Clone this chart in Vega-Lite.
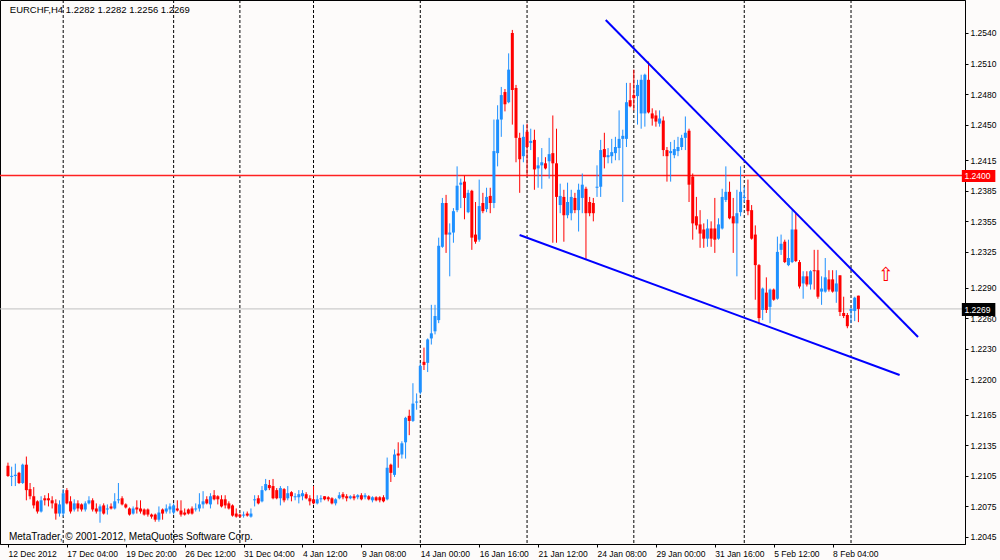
{
"$schema": "https://vega.github.io/schema/vega-lite/v6.json",
"width": 965,
"height": 544,
"autosize": {"type": "none"},
"padding": {"left": 0, "top": 0, "right": 35, "bottom": 16},
"background": "#fdfbfa",
"config": {"view": {"stroke": "#000000", "strokeWidth": 1}, "font": "Liberation Sans", "text": {"font": "Liberation Sans"}, "rule": {"color": "#ff0000"},
"axis": {"labelOverlap": false, "labelFlush": false, "grid": false, "labelFont": "Liberation Sans", "labelFontSize": 8.5, "labelColor": "#000000", "tickColor": "#000000", "domainColor": "#000000", "tickSize": 3, "labelPadding": 2, "title": null, "tickCount": 40}},
"datasets": {
"sep": [{"i":15},{"i":45},{"i":63},{"i":83},{"i":112},{"i":141},{"i":170},{"i":200},{"i":229}],
"bidline": [{"p":1.2269}],
"levelline": [{"p":1.24}],
"trend": [{"line":"upper","i":162.37,"p":1.25528},{"line":"upper","i":247.2,"p":1.22414},{"line":"lower","i":138.98,"p":1.23416},{"line":"lower","i":242.2,"p":1.22041}],
"plab": [{"t":"1.2400","p":1.2400,"p1":1.23937,"p2":1.24055},{"t":"1.2269","p":1.22684,"p1":1.2262,"p2":1.22748}],
"notes": [{"t":"EURCHF,H4  1.2282 1.2282 1.2256 1.2269","i":0.5,"p":1.25626,"kind":"title"},{"t":"MetaTrader, © 2001-2012, MetaQuotes Software Corp.","i":0.27,"p":1.20453,"kind":"copy"}],
"arrow": [{"t":"⇧","i":238.4,"p":1.2302}],
"bars": [
{"i":0,"o":1.2115,"h":1.2118,"l":1.2104,"c":1.2105},
{"i":1,"o":1.2104,"h":1.2114,"l":1.2095,"c":1.2105},
{"i":2,"o":1.2105,"h":1.2117,"l":1.2095,"c":1.2106},
{"i":3,"o":1.2108,"h":1.2109,"l":1.2097,"c":1.2098},
{"i":4,"o":1.2098,"h":1.2117,"l":1.2097,"c":1.2116},
{"i":5,"o":1.2116,"h":1.2124,"l":1.2081,"c":1.2091},
{"i":6,"o":1.2092,"h":1.2098,"l":1.2082,"c":1.2085},
{"i":7,"o":1.2085,"h":1.2094,"l":1.2073,"c":1.2076},
{"i":8,"o":1.2080,"h":1.2081,"l":1.2068,"c":1.2070},
{"i":9,"o":1.2070,"h":1.2085,"l":1.2069,"c":1.2081},
{"i":10,"o":1.2083,"h":1.2086,"l":1.2076,"c":1.2081},
{"i":11,"o":1.2083,"h":1.2088,"l":1.2075,"c":1.2081},
{"i":12,"o":1.2081,"h":1.2085,"l":1.2073,"c":1.2078},
{"i":13,"o":1.2078,"h":1.2082,"l":1.2062,"c":1.2068},
{"i":14,"o":1.2068,"h":1.2081,"l":1.2065,"c":1.2077},
{"i":15,"o":1.2068,"h":1.2092,"l":1.2065,"c":1.2088},
{"i":16,"o":1.2091,"h":1.2093,"l":1.2077,"c":1.2078},
{"i":17,"o":1.2080,"h":1.2085,"l":1.2068,"c":1.2070},
{"i":18,"o":1.2072,"h":1.2082,"l":1.2070,"c":1.2078},
{"i":19,"o":1.2078,"h":1.2081,"l":1.2070,"c":1.2073},
{"i":20,"o":1.2077,"h":1.2078,"l":1.2070,"c":1.2072},
{"i":21,"o":1.2072,"h":1.2080,"l":1.2070,"c":1.2078},
{"i":22,"o":1.2078,"h":1.2085,"l":1.2077,"c":1.2081},
{"i":23,"o":1.2081,"h":1.2083,"l":1.2070,"c":1.2072},
{"i":24,"o":1.2073,"h":1.2078,"l":1.2068,"c":1.2070},
{"i":25,"o":1.2070,"h":1.2077,"l":1.2059,"c":1.2075},
{"i":26,"o":1.2076,"h":1.2078,"l":1.2067,"c":1.2068},
{"i":27,"o":1.2072,"h":1.2077,"l":1.2067,"c":1.2073},
{"i":28,"o":1.2075,"h":1.2078,"l":1.2072,"c":1.2073},
{"i":29,"o":1.2073,"h":1.2088,"l":1.2072,"c":1.2080},
{"i":30,"o":1.2081,"h":1.2098,"l":1.2078,"c":1.2082},
{"i":31,"o":1.2083,"h":1.2085,"l":1.2076,"c":1.2077},
{"i":32,"o":1.2077,"h":1.2078,"l":1.2073,"c":1.2074},
{"i":33,"o":1.2073,"h":1.2074,"l":1.2066,"c":1.2067},
{"i":34,"o":1.2068,"h":1.2075,"l":1.2067,"c":1.2073},
{"i":35,"o":1.2074,"h":1.2081,"l":1.2068,"c":1.2072},
{"i":36,"o":1.2073,"h":1.2081,"l":1.2068,"c":1.2070},
{"i":37,"o":1.2072,"h":1.2073,"l":1.2066,"c":1.2067},
{"i":38,"o":1.2072,"h":1.2073,"l":1.2065,"c":1.2067},
{"i":39,"o":1.2067,"h":1.2068,"l":1.2063,"c":1.2065},
{"i":40,"o":1.2067,"h":1.2068,"l":1.2060,"c":1.2062},
{"i":41,"o":1.2062,"h":1.2075,"l":1.2060,"c":1.2069},
{"i":42,"o":1.2072,"h":1.2073,"l":1.2062,"c":1.2068},
{"i":43,"o":1.2070,"h":1.2077,"l":1.2068,"c":1.2073},
{"i":44,"o":1.2072,"h":1.2078,"l":1.2068,"c":1.2075},
{"i":45,"o":1.2069,"h":1.2078,"l":1.2067,"c":1.2076},
{"i":46,"o":1.2073,"h":1.2081,"l":1.2070,"c":1.2071},
{"i":47,"o":1.2071,"h":1.2081,"l":1.2065,"c":1.2067},
{"i":48,"o":1.2069,"h":1.2073,"l":1.2066,"c":1.2067},
{"i":49,"o":1.2072,"h":1.2073,"l":1.2067,"c":1.2068},
{"i":50,"o":1.2073,"h":1.2075,"l":1.2067,"c":1.2068},
{"i":51,"o":1.2072,"h":1.2078,"l":1.2070,"c":1.2073},
{"i":52,"o":1.2073,"h":1.2088,"l":1.2070,"c":1.2077},
{"i":53,"o":1.2077,"h":1.2090,"l":1.2073,"c":1.2080},
{"i":54,"o":1.2082,"h":1.2085,"l":1.2077,"c":1.2078},
{"i":55,"o":1.2077,"h":1.2088,"l":1.2073,"c":1.2085},
{"i":56,"o":1.2086,"h":1.2091,"l":1.2081,"c":1.2082},
{"i":57,"o":1.2085,"h":1.2086,"l":1.2077,"c":1.2082},
{"i":58,"o":1.2082,"h":1.2086,"l":1.2074,"c":1.2075},
{"i":59,"o":1.2082,"h":1.2086,"l":1.2073,"c":1.2076},
{"i":60,"o":1.2078,"h":1.2080,"l":1.2072,"c":1.2073},
{"i":61,"o":1.2076,"h":1.2077,"l":1.2065,"c":1.2066},
{"i":62,"o":1.2068,"h":1.2073,"l":1.2064,"c":1.2065},
{"i":63,"o":1.2067,"h":1.2068,"l":1.2064,"c":1.2065},
{"i":64,"o":1.2066,"h":1.2070,"l":1.2064,"c":1.2067},
{"i":65,"o":1.2068,"h":1.2070,"l":1.2065,"c":1.2066},
{"i":66,"o":1.2065,"h":1.2073,"l":1.2064,"c":1.2068},
{"i":67,"o":1.2081,"h":1.2086,"l":1.2075,"c":1.2082},
{"i":68,"o":1.2083,"h":1.2086,"l":1.2077,"c":1.2078},
{"i":69,"o":1.2080,"h":1.2095,"l":1.2079,"c":1.2091},
{"i":70,"o":1.2091,"h":1.2102,"l":1.2090,"c":1.2097},
{"i":71,"o":1.2096,"h":1.2101,"l":1.2091,"c":1.2093},
{"i":72,"o":1.2095,"h":1.2102,"l":1.2082,"c":1.2083},
{"i":73,"o":1.2091,"h":1.2093,"l":1.2082,"c":1.2083},
{"i":74,"o":1.2083,"h":1.2095,"l":1.2076,"c":1.2093},
{"i":75,"o":1.2092,"h":1.2093,"l":1.2079,"c":1.2081},
{"i":76,"o":1.2083,"h":1.2095,"l":1.2081,"c":1.2088},
{"i":77,"o":1.2089,"h":1.2090,"l":1.2080,"c":1.2085},
{"i":78,"o":1.2084,"h":1.2088,"l":1.2081,"c":1.2085},
{"i":79,"o":1.2084,"h":1.2091,"l":1.2078,"c":1.2087},
{"i":80,"o":1.2085,"h":1.2091,"l":1.2081,"c":1.2088},
{"i":81,"o":1.2087,"h":1.2089,"l":1.2082,"c":1.2083},
{"i":82,"o":1.2083,"h":1.2086,"l":1.2076,"c":1.2080},
{"i":83,"o":1.2082,"h":1.2095,"l":1.2077,"c":1.2078},
{"i":84,"o":1.2078,"h":1.2086,"l":1.2077,"c":1.2082},
{"i":85,"o":1.2082,"h":1.2086,"l":1.2079,"c":1.2083},
{"i":86,"o":1.2085,"h":1.2085,"l":1.2081,"c":1.2082},
{"i":87,"o":1.2084,"h":1.2085,"l":1.2080,"c":1.2082},
{"i":88,"o":1.2083,"h":1.2084,"l":1.2077,"c":1.2078},
{"i":89,"o":1.2078,"h":1.2083,"l":1.2076,"c":1.2082},
{"i":90,"o":1.2083,"h":1.2089,"l":1.2082,"c":1.2086},
{"i":91,"o":1.2087,"h":1.2089,"l":1.2082,"c":1.2084},
{"i":92,"o":1.2085,"h":1.2087,"l":1.2080,"c":1.2083},
{"i":93,"o":1.2083,"h":1.2086,"l":1.2082,"c":1.2085},
{"i":94,"o":1.2085,"h":1.2087,"l":1.2081,"c":1.2083},
{"i":95,"o":1.2084,"h":1.2087,"l":1.2082,"c":1.2086},
{"i":96,"o":1.2086,"h":1.2088,"l":1.2081,"c":1.2082},
{"i":97,"o":1.2084,"h":1.2088,"l":1.2082,"c":1.2086},
{"i":98,"o":1.2085,"h":1.2086,"l":1.2081,"c":1.2082},
{"i":99,"o":1.2081,"h":1.2085,"l":1.2079,"c":1.2084},
{"i":100,"o":1.2084,"h":1.2085,"l":1.2080,"c":1.2081},
{"i":101,"o":1.2084,"h":1.2085,"l":1.2079,"c":1.2081},
{"i":102,"o":1.2084,"h":1.2086,"l":1.2079,"c":1.2080},
{"i":103,"o":1.2082,"h":1.2123,"l":1.2081,"c":1.2113},
{"i":104,"o":1.2116,"h":1.2117,"l":1.2099,"c":1.2108},
{"i":105,"o":1.2106,"h":1.2131,"l":1.2104,"c":1.2126},
{"i":106,"o":1.2127,"h":1.2138,"l":1.2113,"c":1.2125},
{"i":107,"o":1.2126,"h":1.2139,"l":1.2122,"c":1.2137},
{"i":108,"o":1.2138,"h":1.2163,"l":1.2122,"c":1.2162},
{"i":109,"o":1.2164,"h":1.2170,"l":1.2145,"c":1.2159},
{"i":110,"o":1.2159,"h":1.2196,"l":1.2158,"c":1.2176},
{"i":111,"o":1.2177,"h":1.2186,"l":1.2170,"c":1.2178},
{"i":112,"o":1.2187,"h":1.2216,"l":1.2185,"c":1.2213},
{"i":113,"o":1.2217,"h":1.2231,"l":1.2209,"c":1.2214},
{"i":114,"o":1.2216,"h":1.2240,"l":1.2207,"c":1.2239},
{"i":115,"o":1.2240,"h":1.2273,"l":1.2234,"c":1.2245},
{"i":116,"o":1.2247,"h":1.2273,"l":1.2244,"c":1.2262},
{"i":117,"o":1.2258,"h":1.2339,"l":1.2255,"c":1.2331},
{"i":118,"o":1.2330,"h":1.2378,"l":1.2329,"c":1.2373},
{"i":119,"o":1.2373,"h":1.2381,"l":1.2324,"c":1.2342},
{"i":120,"o":1.2342,"h":1.2353,"l":1.2301,"c":1.2344},
{"i":121,"o":1.2344,"h":1.2368,"l":1.2334,"c":1.2365},
{"i":122,"o":1.2366,"h":1.2409,"l":1.2364,"c":1.2390},
{"i":123,"o":1.2391,"h":1.2397,"l":1.2368,"c":1.2393},
{"i":124,"o":1.2394,"h":1.2400,"l":1.2357,"c":1.2378},
{"i":125,"o":1.2364,"h":1.2386,"l":1.2363,"c":1.2383},
{"i":126,"o":1.2385,"h":1.2386,"l":1.2327,"c":1.2339},
{"i":127,"o":1.2342,"h":1.2374,"l":1.2333,"c":1.2335},
{"i":128,"o":1.2337,"h":1.2396,"l":1.2335,"c":1.2370},
{"i":129,"o":1.2373,"h":1.2383,"l":1.2363,"c":1.2365},
{"i":130,"o":1.2367,"h":1.2388,"l":1.2364,"c":1.2379},
{"i":131,"o":1.2380,"h":1.2388,"l":1.2363,"c":1.2373},
{"i":132,"o":1.2373,"h":1.2455,"l":1.2368,"c":1.2424},
{"i":133,"o":1.2422,"h":1.2469,"l":1.2409,"c":1.2455},
{"i":134,"o":1.2455,"h":1.2487,"l":1.2438,"c":1.2479},
{"i":135,"o":1.2482,"h":1.2485,"l":1.2463,"c":1.2470},
{"i":136,"o":1.2472,"h":1.2520,"l":1.2471,"c":1.2504},
{"i":137,"o":1.2540,"h":1.2543,"l":1.2450,"c":1.2484},
{"i":138,"o":1.2486,"h":1.2489,"l":1.2413,"c":1.2437},
{"i":139,"o":1.2437,"h":1.2442,"l":1.2383,"c":1.2416},
{"i":140,"o":1.2419,"h":1.2450,"l":1.2413,"c":1.2438},
{"i":141,"o":1.2443,"h":1.2451,"l":1.2399,"c":1.2428},
{"i":142,"o":1.2432,"h":1.2446,"l":1.2425,"c":1.2434},
{"i":143,"o":1.2435,"h":1.2445,"l":1.2386,"c":1.2406},
{"i":144,"o":1.2407,"h":1.2418,"l":1.2388,"c":1.2410},
{"i":145,"o":1.2410,"h":1.2427,"l":1.2387,"c":1.2413},
{"i":146,"o":1.2412,"h":1.2418,"l":1.2406,"c":1.2407},
{"i":147,"o":1.2414,"h":1.2437,"l":1.2397,"c":1.2421},
{"i":148,"o":1.2422,"h":1.2459,"l":1.2334,"c":1.2412},
{"i":149,"o":1.2412,"h":1.2446,"l":1.2334,"c":1.2379},
{"i":150,"o":1.2371,"h":1.2392,"l":1.2363,"c":1.2380},
{"i":151,"o":1.2379,"h":1.2386,"l":1.2335,"c":1.2361},
{"i":152,"o":1.2361,"h":1.2393,"l":1.2358,"c":1.2374},
{"i":153,"o":1.2363,"h":1.2386,"l":1.2356,"c":1.2379},
{"i":154,"o":1.2378,"h":1.2383,"l":1.2363,"c":1.2366},
{"i":155,"o":1.2366,"h":1.2392,"l":1.2345,"c":1.2386},
{"i":156,"o":1.2378,"h":1.2402,"l":1.2363,"c":1.2391},
{"i":157,"o":1.2387,"h":1.2389,"l":1.2317,"c":1.2363},
{"i":158,"o":1.2374,"h":1.2379,"l":1.2360,"c":1.2363},
{"i":159,"o":1.2373,"h":1.2378,"l":1.2355,"c":1.2363},
{"i":160,"o":1.2388,"h":1.2410,"l":1.2379,"c":1.2389},
{"i":161,"o":1.2389,"h":1.2435,"l":1.2379,"c":1.2425},
{"i":162,"o":1.2426,"h":1.2442,"l":1.2407,"c":1.2418},
{"i":163,"o":1.2418,"h":1.2427,"l":1.2412,"c":1.2420},
{"i":164,"o":1.2419,"h":1.2436,"l":1.2412,"c":1.2423},
{"i":165,"o":1.2422,"h":1.2438,"l":1.2415,"c":1.2428},
{"i":166,"o":1.2427,"h":1.2464,"l":1.2415,"c":1.2436},
{"i":167,"o":1.2436,"h":1.2445,"l":1.2374,"c":1.2439},
{"i":168,"o":1.2436,"h":1.2491,"l":1.2428,"c":1.2472},
{"i":169,"o":1.2474,"h":1.2491,"l":1.2467,"c":1.2468},
{"i":170,"o":1.2479,"h":1.2504,"l":1.2464,"c":1.2476},
{"i":171,"o":1.2478,"h":1.2494,"l":1.2450,"c":1.2489},
{"i":172,"o":1.2461,"h":1.2499,"l":1.2446,"c":1.2494},
{"i":173,"o":1.2461,"h":1.2500,"l":1.2448,"c":1.2499},
{"i":174,"o":1.2494,"h":1.2512,"l":1.2461,"c":1.2462},
{"i":175,"o":1.2461,"h":1.2466,"l":1.2449,"c":1.2456},
{"i":176,"o":1.2459,"h":1.2464,"l":1.2448,"c":1.2453},
{"i":177,"o":1.2451,"h":1.2464,"l":1.2448,"c":1.2456},
{"i":178,"o":1.2454,"h":1.2458,"l":1.2419,"c":1.2425},
{"i":179,"o":1.2425,"h":1.2428,"l":1.2394,"c":1.2419},
{"i":180,"o":1.2422,"h":1.2433,"l":1.2394,"c":1.2424},
{"i":181,"o":1.2420,"h":1.2435,"l":1.2417,"c":1.2426},
{"i":182,"o":1.2424,"h":1.2438,"l":1.2419,"c":1.2428},
{"i":183,"o":1.2428,"h":1.2440,"l":1.2425,"c":1.2437},
{"i":184,"o":1.2437,"h":1.2458,"l":1.2425,"c":1.2442},
{"i":185,"o":1.2444,"h":1.2446,"l":1.2374,"c":1.2391},
{"i":186,"o":1.2399,"h":1.2402,"l":1.2337,"c":1.2353},
{"i":187,"o":1.2360,"h":1.2379,"l":1.2347,"c":1.2351},
{"i":188,"o":1.2352,"h":1.2366,"l":1.2329,"c":1.2343},
{"i":189,"o":1.2347,"h":1.2353,"l":1.2329,"c":1.2338},
{"i":190,"o":1.2338,"h":1.2357,"l":1.2330,"c":1.2348},
{"i":191,"o":1.2348,"h":1.2355,"l":1.2330,"c":1.2338},
{"i":192,"o":1.2348,"h":1.2378,"l":1.2324,"c":1.2337},
{"i":193,"o":1.2338,"h":1.2358,"l":1.2337,"c":1.2352},
{"i":194,"o":1.2348,"h":1.2387,"l":1.2347,"c":1.2379},
{"i":195,"o":1.2376,"h":1.2409,"l":1.2374,"c":1.2384},
{"i":196,"o":1.2384,"h":1.2394,"l":1.2357,"c":1.2358},
{"i":197,"o":1.2360,"h":1.2378,"l":1.2324,"c":1.2353},
{"i":198,"o":1.2353,"h":1.2386,"l":1.2301,"c":1.2363},
{"i":199,"o":1.2364,"h":1.2409,"l":1.2360,"c":1.2384},
{"i":200,"o":1.2378,"h":1.2389,"l":1.2374,"c":1.2379},
{"i":201,"o":1.2376,"h":1.2396,"l":1.2361,"c":1.2365},
{"i":202,"o":1.2366,"h":1.2371,"l":1.2337,"c":1.2338},
{"i":203,"o":1.2342,"h":1.2351,"l":1.2278,"c":1.2312},
{"i":204,"o":1.2312,"h":1.2313,"l":1.2254,"c":1.2260},
{"i":205,"o":1.2268,"h":1.2290,"l":1.2258,"c":1.2289},
{"i":206,"o":1.2285,"h":1.2300,"l":1.2265,"c":1.2268},
{"i":207,"o":1.2271,"h":1.2289,"l":1.2255,"c":1.2288},
{"i":208,"o":1.2288,"h":1.2289,"l":1.2277,"c":1.2278},
{"i":209,"o":1.2279,"h":1.2340,"l":1.2278,"c":1.2325},
{"i":210,"o":1.2327,"h":1.2342,"l":1.2322,"c":1.2333},
{"i":211,"o":1.2335,"h":1.2337,"l":1.2314,"c":1.2315},
{"i":212,"o":1.2312,"h":1.2337,"l":1.2311,"c":1.2319},
{"i":213,"o":1.2315,"h":1.2366,"l":1.2314,"c":1.2347},
{"i":214,"o":1.2347,"h":1.2363,"l":1.2315,"c":1.2316},
{"i":215,"o":1.2315,"h":1.2317,"l":1.2289,"c":1.2291},
{"i":216,"o":1.2294,"h":1.2306,"l":1.2279,"c":1.2301},
{"i":217,"o":1.2301,"h":1.2306,"l":1.2291,"c":1.2293},
{"i":218,"o":1.2293,"h":1.2307,"l":1.2288,"c":1.2306},
{"i":219,"o":1.2307,"h":1.2327,"l":1.2288,"c":1.2306},
{"i":220,"o":1.2307,"h":1.2327,"l":1.2279,"c":1.2281},
{"i":221,"o":1.2286,"h":1.2301,"l":1.2273,"c":1.2289},
{"i":222,"o":1.2286,"h":1.2319,"l":1.2285,"c":1.2300},
{"i":223,"o":1.2298,"h":1.2307,"l":1.2286,"c":1.2288},
{"i":224,"o":1.2298,"h":1.2307,"l":1.2285,"c":1.2286},
{"i":225,"o":1.2286,"h":1.2307,"l":1.2275,"c":1.2294},
{"i":226,"o":1.2302,"h":1.2302,"l":1.2262,"c":1.2266},
{"i":227,"o":1.2265,"h":1.2281,"l":1.2260,"c":1.2262},
{"i":228,"o":1.2263,"h":1.2265,"l":1.2250,"c":1.2252},
{"i":229,"o":1.2267,"h":1.2270,"l":1.2255,"c":1.2269},
{"i":230,"o":1.2267,"h":1.2281,"l":1.2257,"c":1.2280},
{"i":231,"o":1.2282,"h":1.2282,"l":1.2256,"c":1.2269}
]
},
"layer": [
{
"data": {"name": "sep"},
"mark": {"type": "rule", "color": "#000000", "strokeWidth": 1, "strokeDash": [3, 2]},
"encoding": {
"x": {"field": "i", "type": "quantitative", "title": null,
"scale": {"domain": [-0.806, 258.6], "nice": false, "zero": false},
"axis": {"orient": "bottom", "values": [0,16,32,48,64,80,96,112,128,144,160,176,192,208,224], "tickCount": 40,
"labelExpr": "['12 Dec 2012','17 Dec 04:00','19 Dec 20:00','26 Dec 12:00','31 Dec 04:00','4 Jan 12:00','9 Jan 08:00','14 Jan 00:00','16 Jan 16:00','21 Jan 12:00','24 Jan 08:00','29 Jan 00:00','31 Jan 16:00','5 Feb 12:00','8 Feb 04:00'][round(datum.value/16)]",
"labelAlign": "left", "labelBaseline": "top", "labelBound": false, "labelOverlap": false, "title": null}}
}
},
{
"data": {"name": "bidline"},
"mark": {"type": "rule", "strokeWidth": 1, "color": "#c0c0c0"},
"encoding": {
"y": {"field": "p", "type": "quantitative", "title": null,
"scale": {"domain": [1.20381, 1.25724], "nice": false, "zero": false},
"axis": {"orient": "right", "values": [1.2540,1.2510,1.2480,1.2450,1.2415,1.2385,1.2355,1.2325,1.2290,1.2260,1.2230,1.2200,1.2165,1.2135,1.2105,1.2075,1.2045], "tickCount": 40,
"format": ".4f", "labelBaseline": "middle", "labelOverlap": false, "title": null}}
}
},
{
"data": {"name": "levelline"},
"mark": {"type": "rule", "strokeWidth": 1.6, "color": "#ff2020", "opacity": 1},
"encoding": {
"y": {"field": "p", "type": "quantitative", "title": null}
}
},
{
"data": {"name": "bars"},
"mark": {"type": "rule", "strokeWidth": 1},
"encoding": {
"x": {"field": "i", "type": "quantitative", "title": null},
"y": {"field": "l", "type": "quantitative", "title": null},
"y2": {"field": "h"},
"color": {"condition": {"test": "datum.c >= datum.o", "value": "#1e90ff"}, "value": "#ff0000"}
}
},
{
"data": {"name": "bars"},
"mark": {"type": "bar", "width": 3},
"encoding": {
"x": {"field": "i", "type": "quantitative", "title": null},
"y": {"field": "o", "type": "quantitative", "title": null},
"y2": {"field": "c"},
"color": {"condition": {"test": "datum.c >= datum.o", "value": "#1e90ff"}, "value": "#ff0000"}
}
},
{
"data": {"name": "trend"},
"mark": {"type": "line", "color": "#0000ff", "strokeWidth": 2},
"encoding": {
"x": {"field": "i", "type": "quantitative", "title": null},
"y": {"field": "p", "type": "quantitative", "title": null},
"detail": {"field": "line"}
}
},
{
"data": {"name": "arrow"},
"mark": {"type": "text", "color": "#ff0000", "fontSize": 19, "font": "DejaVu Sans", "baseline": "middle", "align": "center"},
"encoding": {
"x": {"field": "i", "type": "quantitative", "title": null},
"y": {"field": "p", "type": "quantitative", "title": null},
"text": {"field": "t"}
}
},
{
"data": {"name": "plab"},
"transform": [{"filter": "datum.t == '1.2400'"}],
"mark": {"type": "rect", "clip": false, "color": "#ff0000"},
"encoding": {
"x": {"datum": 259.1},
"x2": {"datum": 268.2},
"y": {"field": "p1", "type": "quantitative", "title": null},
"y2": {"field": "p2"}
}
},
{
"data": {"name": "plab"},
"transform": [{"filter": "datum.t == '1.2269'"}],
"mark": {"type": "rect", "clip": false, "color": "#000000"},
"encoding": {
"x": {"datum": 259.1},
"x2": {"datum": 268.2},
"y": {"field": "p1", "type": "quantitative", "title": null},
"y2": {"field": "p2"}
}
},
{
"data": {"name": "plab"},
"mark": {"type": "text", "clip": false, "color": "#ffffff", "fontSize": 8.5, "align": "left", "baseline": "middle"},
"encoding": {
"x": {"datum": 259.8},
"y": {"field": "p", "type": "quantitative", "title": null},
"text": {"field": "t"}
}
},
{
"data": {"name": "notes"},
"transform": [{"filter": "datum.kind == 'title'"}],
"mark": {"type": "text", "color": "#000000", "align": "left", "baseline": "middle", "fontSize": 9.5},
"encoding": {
"x": {"field": "i", "type": "quantitative", "title": null},
"y": {"field": "p", "type": "quantitative", "title": null},
"text": {"field": "t"}
}
},
{
"data": {"name": "notes"},
"transform": [{"filter": "datum.kind == 'copy'"}],
"mark": {"type": "text", "color": "#000000", "align": "left", "baseline": "middle", "fontSize": 10},
"encoding": {
"x": {"field": "i", "type": "quantitative", "title": null},
"y": {"field": "p", "type": "quantitative", "title": null},
"text": {"field": "t"}
}
}
]
}
